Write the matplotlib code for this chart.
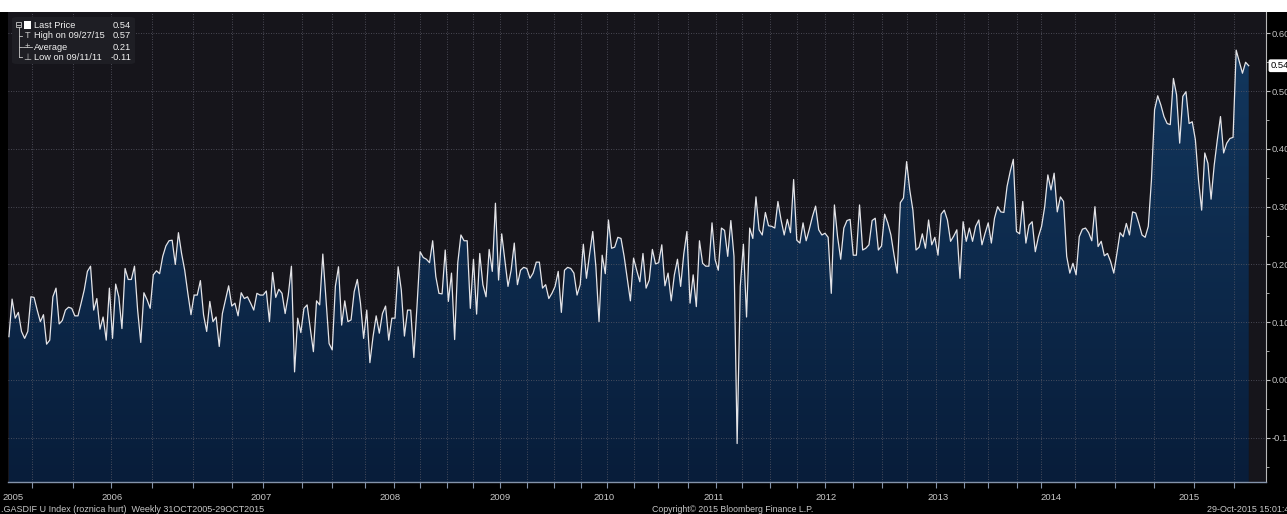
import matplotlib
matplotlib.use('Agg')
import matplotlib.pyplot as plt
import numpy as np
from matplotlib.patches import Rectangle, FancyBboxPatch, PathPatch
from matplotlib.colors import LinearSegmentedColormap

plt.rcParams['font.family'] = ['Liberation Sans', 'DejaVu Sans']

# weekly values (Oct 2005 .. Oct 2015)
vals_2005_07 = [
    0.075, 0.140, 0.107, 0.117, 0.084, 0.072, 0.084, 0.144, 0.143, 0.121,
    0.101, 0.113, 0.062, 0.069, 0.144, 0.159, 0.097, 0.103, 0.121, 0.126,
    0.124, 0.111, 0.111, 0.133, 0.156, 0.188, 0.197, 0.121, 0.141, 0.088,
    0.109, 0.069, 0.159, 0.072, 0.166, 0.144, 0.089, 0.193, 0.174, 0.174,
    0.197, 0.121, 0.065, 0.151, 0.139, 0.124, 0.182, 0.189, 0.184, 0.214,
    0.232, 0.241, 0.242, 0.200, 0.255, 0.219, 0.190, 0.150, 0.113, 0.147,
    0.147, 0.172, 0.113, 0.084, 0.136, 0.101, 0.109, 0.058, 0.115, 0.139,
    0.163, 0.128, 0.133, 0.111, 0.151, 0.141, 0.144, 0.133, 0.121, 0.150,
    0.147, 0.147, 0.154, 0.101, 0.186, 0.143, 0.157, 0.150, 0.115, 0.147,
    0.197, 0.014, 0.107, 0.082, 0.124, 0.130, 0.089, 0.049, 0.137, 0.130,
    0.218, 0.140, 0.063, 0.052]
vals_2008_10 = [
    0.162, 0.196, 0.095, 0.137, 0.101, 0.104, 0.153, 0.174, 0.133, 0.072,
    0.121, 0.030, 0.075, 0.111, 0.081, 0.115, 0.128, 0.069, 0.107, 0.107,
    0.196, 0.156, 0.076, 0.121, 0.121, 0.039, 0.127, 0.222, 0.212, 0.209,
    0.203, 0.241, 0.179, 0.150, 0.149, 0.225, 0.136, 0.185, 0.070, 0.203,
    0.251, 0.241, 0.241, 0.124, 0.209, 0.114, 0.219, 0.165, 0.144, 0.226,
    0.188, 0.306, 0.173, 0.253, 0.208, 0.162, 0.190, 0.237, 0.165, 0.190,
    0.195, 0.193, 0.176, 0.185, 0.204, 0.204, 0.159, 0.165, 0.141, 0.150,
    0.162, 0.188, 0.117, 0.190, 0.195, 0.193, 0.185, 0.147, 0.165, 0.235,
    0.176, 0.218, 0.257, 0.196, 0.101, 0.216, 0.184, 0.277, 0.228, 0.230,
    0.247, 0.245, 0.214, 0.176, 0.137, 0.211, 0.190, 0.170, 0.219, 0.159,
    0.173]
vals_2010_13 = [
    0.226, 0.201, 0.203, 0.234, 0.163, 0.185, 0.137, 0.182, 0.209, 0.162,
    0.218, 0.257, 0.133, 0.182, 0.127, 0.241, 0.202, 0.197, 0.197, 0.272,
    0.208, 0.190, 0.263, 0.259, 0.214, 0.276, 0.214, -0.110, 0.162, 0.235,
    0.109, 0.263, 0.245, 0.317, 0.260, 0.251, 0.290, 0.267, 0.266, 0.263,
    0.309, 0.277, 0.251, 0.278, 0.255, 0.347, 0.242, 0.237, 0.272, 0.241,
    0.261, 0.283, 0.301, 0.260, 0.251, 0.254, 0.247, 0.150, 0.303, 0.248,
    0.209, 0.263, 0.276, 0.278, 0.216, 0.216, 0.303, 0.225, 0.228, 0.234,
    0.276, 0.280, 0.225, 0.232, 0.287, 0.272, 0.251, 0.216, 0.185, 0.307,
    0.315, 0.378, 0.329, 0.294, 0.225, 0.230, 0.253, 0.228, 0.277, 0.234,
    0.247, 0.216, 0.287, 0.294, 0.277, 0.240, 0.249, 0.260, 0.176, 0.274,
    0.240, 0.263, 0.240, 0.266]
vals_2013_15 = [
    0.277, 0.234, 0.254, 0.272, 0.237, 0.280, 0.300, 0.291, 0.290, 0.335,
    0.361, 0.382, 0.257, 0.253, 0.309, 0.237, 0.268, 0.274, 0.222, 0.248,
    0.266, 0.300, 0.355, 0.329, 0.358, 0.291, 0.317, 0.309, 0.214, 0.185,
    0.202, 0.182, 0.248, 0.261, 0.263, 0.255, 0.241, 0.300, 0.231, 0.240,
    0.215, 0.219, 0.205, 0.185, 0.219, 0.255, 0.248, 0.271, 0.251, 0.291,
    0.289, 0.271, 0.251, 0.247, 0.266, 0.346, 0.468, 0.492, 0.476, 0.456,
    0.444, 0.442, 0.522, 0.494, 0.410, 0.491, 0.499, 0.444, 0.447, 0.416,
    0.346, 0.294, 0.393, 0.375, 0.313, 0.372, 0.416, 0.456, 0.393, 0.410,
    0.418, 0.420, 0.571, 0.551, 0.531, 0.550, 0.544]

# quarter boundaries (observation number) and year labels
quarter_obs = [7.4, 20.3, 32.6, 45.5, 58.8, 71.0, 81.0, 93.3, 103.0, 113.3,
               122.7, 130.9, 139.5, 147.7, 156.5, 165.0, 173.6, 182.2, 190.4, 199.1,
               206.9, 216.3, 225.4, 233.5, 242.5, 251.0, 260.0, 268.8, 278.1, 286.2,
               295.3, 304.4, 312.0, 321.1, 328.9, 339.5, 352.4, 364.9, 377.7, 390.2]
year_obs = [1.2, 32.9, 80.4, 121.5, 156.5, 189.7, 224.4, 260.4, 295.9, 332.0, 376.1]
years = ['2005', '2006', '2007', '2008', '2009', '2010', '2011', '2012', '2013', '2014', '2015']
yticks = [-0.1, 0.0, 0.1, 0.2, 0.3, 0.4, 0.5, 0.6]
high_date = '09/27/15'
low_date = '09/11/11'

vals = np.array(vals_2005_07 + vals_2008_10 + vals_2010_13 + vals_2013_15)
x = np.arange(len(vals))

W, H = 1287, 514
def fx(px):
    return px / W
def fy(py):
    return 1 - py / H

fig = plt.figure(figsize=(W / 100, H / 100), dpi=100, facecolor='black')
fig.add_artist(Rectangle((0, fy(12)), 1, 1 - fy(12), transform=fig.transFigure,
                         facecolor='white', edgecolor='none'))

ax = fig.add_axes([fx(8), fy(482), fx(1266) - fx(8), fy(12) - fy(482)])
ax.set_facecolor('#16151b')
ylo, yhi = -0.1766, 0.637

# area with a soft vertical gradient
poly = ax.fill_between(x, vals, ylo, facecolor='none', edgecolor='none')
clip = PathPatch(poly.get_paths()[0], transform=ax.transData, facecolor='none', edgecolor='none')
ax.add_patch(clip)
cmap = LinearSegmentedColormap.from_list('bbg', ['#081d3a', '#13385f'])
grad = np.linspace(0, 1, 256).reshape(-1, 1)
im = ax.imshow(grad, extent=[x[0], x[-1], ylo, 0.6], origin='lower', aspect='auto',
               cmap=cmap, zorder=1)
im.set_clip_path(clip)
ax.plot(x, vals, color='#e4e4e8', lw=0.9, zorder=3)

ax.set_xlim(-0.3, 400.5)
ax.set_ylim(ylo, yhi)

# grid
for q in quarter_obs:
    ax.axvline(q, color='#5a5a66', lw=0.6, ls=(0, (1, 2)), zorder=2)
for yv in yticks:
    ax.axhline(yv, color='#5a5a66', lw=0.6, ls=(0, (1, 2)), zorder=2)

# axes
for s in ['left', 'top']:
    ax.spines[s].set_visible(False)
ax.spines['right'].set_color('#b8b8b8')
ax.spines['right'].set_linewidth(0.8)
ax.spines['bottom'].set_color('#8493aa')
ax.spines['bottom'].set_linewidth(1.0)

ax.yaxis.tick_right()
ax.set_yticks(yticks)
ax.set_yticklabels(['%.2f' % v for v in yticks])
ax.set_yticks(np.arange(-0.15, 0.65, 0.1), minor=True)
ax.tick_params(axis='y', which='major', colors='#c0c0c0', labelsize=6.8, length=3, width=0.8, pad=0.8)
ax.tick_params(axis='y', which='minor', colors='#c0c0c0', length=2, width=0.6)

ax.xaxis.remove_overlapping_locs = False
ax.set_xticks(quarter_obs)
ax.set_xticklabels([''] * len(quarter_obs))
ax.set_xticks(year_obs, minor=True)
ax.set_xticklabels(years, minor=True)
ax.tick_params(axis='x', which='major', colors='#8493aa', length=4, width=0.8)
ax.tick_params(axis='x', which='minor', length=0, labelsize=6.8, labelcolor='#c8c8c8', pad=8)

# last value tag
ax.annotate('%.2f' % vals[-1], xy=(1, vals[-1]), xycoords=('axes fraction', 'data'),
            xytext=(3.2, 0), textcoords='offset points', ha='left', va='center',
            fontsize=6.8, color='black', annotation_clip=False,
            bbox=dict(boxstyle='round,pad=0.2', fc='white', ec='none'))

# legend box
fig.add_artist(FancyBboxPatch((fx(12), fy(64)), fx(135) - fx(12), fy(17) - fy(64),
                              boxstyle='round,pad=0,rounding_size=0.004',
                              transform=fig.transFigure, facecolor='#1e1e24',
                              edgecolor='none', zorder=5))
rows = ['Last Price', 'High on ' + high_date, 'Average', 'Low on ' + low_date]
row_vals = [vals[-1], vals.max(), vals.mean(), vals.min()]
row_y = [25, 36, 47, 57]
for lab, v, yy in zip(rows, row_vals, row_y):
    fig.text(fx(34), fy(yy), lab, ha='left', va='center', fontsize=6.7, color='#f0f0f0', zorder=6)
    fig.text(fx(131), fy(yy), '%.2f' % v, ha='right', va='center', fontsize=6.7, color='#f0f0f0', zorder=6)

tc = '#c8c8c8'
fig.add_artist(Rectangle((fx(16), fy(27)), fx(5), fy(0) - fy(5), transform=fig.transFigure,
                         facecolor='none', edgecolor=tc, lw=0.6, zorder=6))
fig.add_artist(plt.Line2D([fx(17), fx(20)], [fy(24.5), fy(24.5)], transform=fig.transFigure, color=tc, lw=0.6, zorder=6))
fig.add_artist(plt.Line2D([fx(18.5), fx(18.5)], [fy(27), fy(57)], transform=fig.transFigure, color=tc, lw=0.6, zorder=6))
for yy in row_y[1:]:
    fig.add_artist(plt.Line2D([fx(18.5), fx(22)], [fy(yy), fy(yy)], transform=fig.transFigure, color=tc, lw=0.6, zorder=6))
fig.add_artist(Rectangle((fx(24), fy(29)), fx(7), fy(0) - fy(8), transform=fig.transFigure,
                         facecolor='white', edgecolor='none', zorder=6))
fig.text(fx(27.5), fy(36), 'T', ha='center', va='center', fontsize=6.7, color=tc, zorder=6)
fig.add_artist(plt.Line2D([fx(23), fx(32)], [fy(47), fy(47)], transform=fig.transFigure, color=tc, lw=0.6, zorder=6))
fig.text(fx(27.5), fy(46.5), '+', ha='center', va='center', fontsize=6.7, color=tc, zorder=6)
fig.text(fx(27.5), fy(57), '\u22a5', ha='center', va='center', fontsize=6.7, color=tc,
         family=['DejaVu Sans'], zorder=6)

# footer
fig.text(fx(1), fy(509), '.GASDIF U Index (roznica hurt)  Weekly 31OCT2005-29OCT2015',
         ha='left', va='center', fontsize=6.5, color=tc)
fig.text(fx(733), fy(509), 'Copyright\u00a9 2015 Bloomberg Finance L.P.',
         ha='center', va='center', fontsize=6.3, color=tc)
fig.text(fx(1207), fy(509), '29-Oct-2015 15:01:40', ha='left', va='center', fontsize=6.5, color=tc)

fig.savefig('out.png', dpi=100, facecolor='black')
